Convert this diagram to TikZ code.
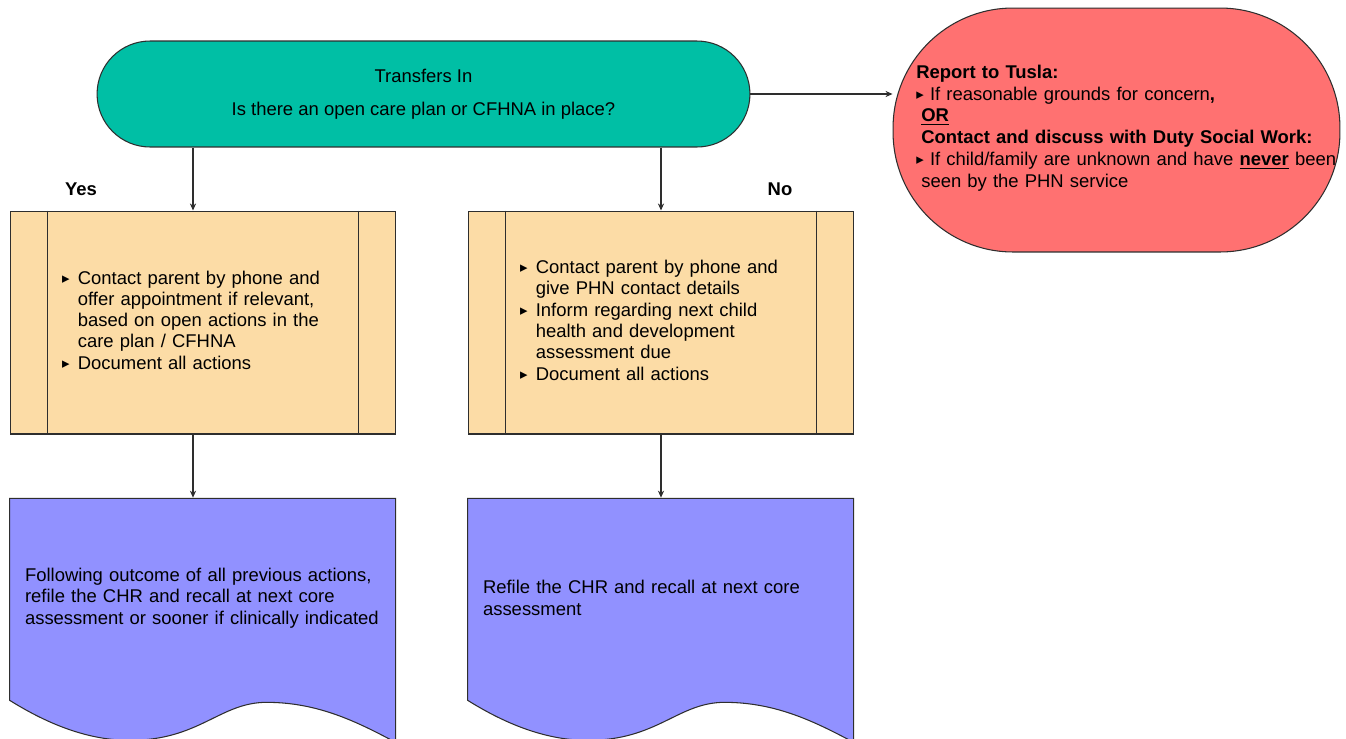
\documentclass[tikz,border=0pt]{standalone}
\usepackage{fontspec}
\setmainfont{Liberation Sans}
\newfontfamily\symfont{DejaVu Sans}
\usepackage{tikz}
\usetikzlibrary{shapes.geometric,arrows.meta,positioning,calc,backgrounds}
\definecolor{tfteal}{HTML}{00BFA5}
\definecolor{tfrouge}{HTML}{FF7171}
\definecolor{tforange}{HTML}{FCDCA6}
\definecolor{tfviolet}{HTML}{9191FF}
\definecolor{tftrait}{HTML}{2E2E2E}
\newcommand{\tri}{\raisebox{0.6pt}{\symfont\fontsize{8.5}{8.5}\selectfont ▸}}
\newcommand{\bitem}[1]{\makebox[9pt][l]{\tri}\begin{tabular}[t]{@{}l@{}}#1\end{tabular}}

\begin{document}
\begin{tikzpicture}[x=0.02cm,y=-0.02cm,
  every node/.style={font=\fontsize{10.5}{12.1}\selectfont},
  lbl/.style={font=\fontsize{10.5}{12.1}\selectfont\bfseries},
  arr/.style={-{Stealth[length=4pt,width=3.5pt]},tftrait,line width=0.6pt},
  procbox/.style={draw=tftrait,fill=tforange,line width=0.6pt,minimum width=7.72cm,minimum height=4.46cm,text width=5.64cm,align=left},
  docbox/.style={minimum width=7.72cm,minimum height=4cm,text width=7.12cm,align=left,inner sep=0pt},
  docshape/.style={draw=tftrait,fill=tfviolet,line width=0.6pt}]
  \useasboundingbox (0,0) rectangle (1346,738);
  % --- Transfers In ---
  \node[draw=tftrait,fill=tfteal,line width=0.6pt,rounded corners=1.06cm,minimum width=13.06cm,minimum height=2.12cm,align=center]
    (start) at (423.5,94) {Transfers In\\[6.5pt]Is there an open care plan or CFHNA in place?};
  % --- Tusla ---
  \node[draw=tftrait,fill=tfrouge,line width=0.6pt,rounded corners=2.4cm,minimum width=8.94cm,minimum height=4.88cm] (tusla) at (1116.5,130) {};
  \node[anchor=west,text width=9cm,align=left,inner sep=0pt,font=\fontsize{10.5}{12.4}\selectfont] (tuslatxt) at (916,128) {%
    \textbf{Report to Tusla:}\\
    \tri\ If reasonable grounds for concern\textbf{,}\\
    \hspace*{2.8pt}\underline{\textbf{OR}}\\
    \hspace*{2.8pt}\textbf{Contact and discuss with Duty Social Work:}\\
    \tri\ If child/family are unknown and have \underline{\textbf{never}} been\\
    \hspace*{2.8pt}seen by the PHN service};
  % --- Yes / No ---
  \node[lbl] (yeslbl) at (81,189) {Yes};
  \node[lbl] (nolbl) at (780,189) {No};
  \node[procbox] (yes) at (203,322.5) {%
    \bitem{Contact parent by phone and\\offer appointment if relevant,\\based on open actions in the\\care plan / CFHNA}\\[-0.9pt]
    \bitem{Document all actions}};
  \node[procbox] (no) at (661,322.5) {%
    \bitem{Contact parent by phone and\\give PHN contact details}\\[-0.9pt]
    \bitem{Inform regarding next child\\health and development\\assessment due}\\[-0.9pt]
    \bitem{Document all actions}};
  \foreach \b in {yes,no}{
    \draw[tftrait,line width=0.6pt] ([xshift=0.76cm]\b.north west) -- ([xshift=0.76cm]\b.south west);
    \draw[tftrait,line width=0.6pt] ([xshift=-0.76cm]\b.north east) -- ([xshift=-0.76cm]\b.south east);
  }
  % --- Documents ---
  \node[docbox] (yesdoc) at (203,598) {Following outcome of all previous actions,\\refile the CHR and recall at next core\\assessment or sooner if clinically indicated};
  \node[docbox] (nodoc) at (661,598) {Refile the CHR and recall at next core\\assessment};
  \begin{scope}[on background layer]
    \foreach \d in {yesdoc,nodoc}{
      \filldraw[docshape,shift={(\d.south west)}] (0,-200) -- (386,-200) -- (386,44)
        .. controls (350,25) and (310,4) .. (257,4)
        .. controls (210,4) and (190,42) .. (120,42)
        .. controls (80,42) and (40,27) .. (0,2) -- cycle;
    }
  \end{scope}
  % --- Liaisons ---
  \coordinate (yin) at ([xshift=-0.2cm]yes.north);
  \draw[arr] (start.south -| yin) -- (yin);
  \draw[arr] (start.south -| no.north) -- (no.north);
  \draw[arr] (yes.south -| yin) -- (yesdoc.north -| yin);
  \draw[arr] (no.south) -- (nodoc.north);
  \draw[arr] (start.east) -- (tusla.west |- start.east);
\end{tikzpicture}
\end{document}
